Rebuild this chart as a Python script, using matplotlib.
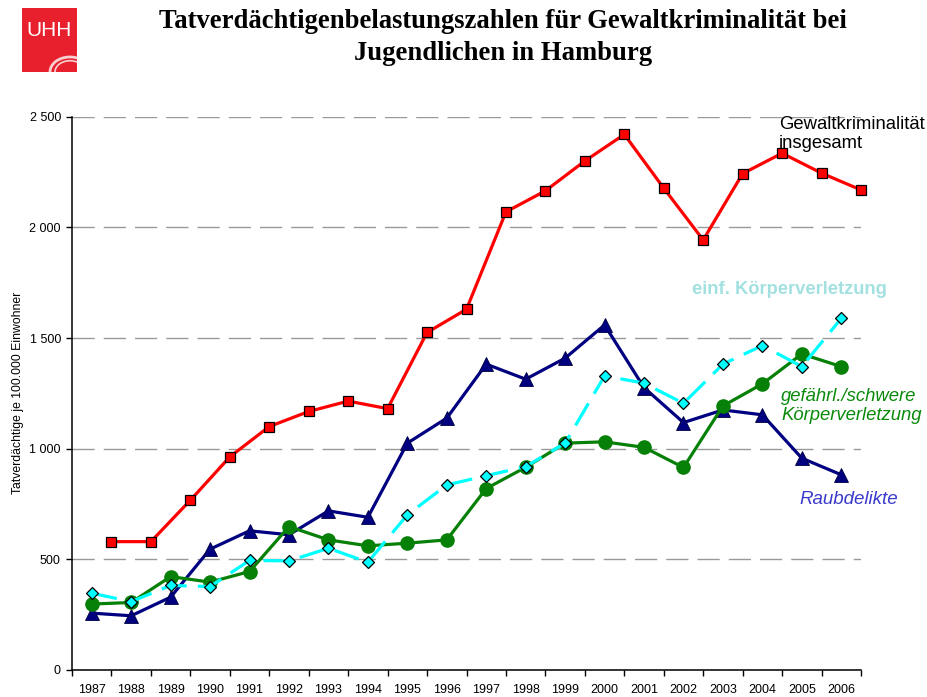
import matplotlib
matplotlib.use("Agg")
import matplotlib.pyplot as plt
from matplotlib.patches import Rectangle, Circle

plt.rcParams['font.family'] = ['Liberation Sans', 'DejaVu Sans']

years = ["1987", "1988", "1989", "1990", "1991", "1992", "1993", "1994", "1995", "1996",
         "1997", "1998", "1999", "2000", "2001", "2002", "2003", "2004", "2005", "2006"]
gewalt_gesamt = [580, 580, 767, 963, 1100, 1168, 1215, 1181, 1525, 1630,
                 2070, 2165, 2300, 2420, 2177, 1943, 2243, 2335, 2245, 2169]
raub = [257, 245, 329, 546, 629, 611, 719, 690, 1025, 1138,
        1382, 1314, 1409, 1559, 1276, 1118, 1175, 1153, 957, 882]
gefaehrl = [298, 305, 422, 397, 445, 648, 588, 561, 573, 588,
            820, 916, 1025, 1031, 1006, 915, 1193, 1293, 1428, 1371]
einf = [347, 309, 382, 377, 495, 493, 550, 487, 701, 836,
        878, 919, 1025, 1329, 1296, 1205, 1382, 1466, 1371, 1589]
yticks = [0, 500, 1000, 1500, 2000, 2500]
ytick_labels = ["0", "500", "1 000", "1 500", "2 000", "2 500"]

fig = plt.figure(figsize=(9.28, 6.97), dpi=100)
ax = fig.add_axes([72/928, 1-670/697, (861-72)/928, (670-116.7)/697])

n = len(years)
xc = list(range(n))
xr = [i + 0.5 for i in xc]

ax.plot(xr, gewalt_gesamt, color='#ff0000', lw=2.3, marker='s', markersize=7,
        markerfacecolor='#ff0000', markeredgecolor='black', markeredgewidth=0.9,
        clip_on=False, zorder=3)
ax.plot(xc, raub, color='#000080', lw=2.3, marker='^', markersize=10,
        markerfacecolor='#000080', markeredgecolor='#000040', markeredgewidth=0.6,
        clip_on=False, zorder=4)
ax.plot(xc, gefaehrl, color='#068006', lw=2.3, marker='o', markersize=9.5,
        markerfacecolor='#068006', markeredgecolor='#068006',
        clip_on=False, zorder=5)
ax.plot(xc, einf, color='#00ffff', lw=2.3, linestyle=(0, (8, 3.5)), marker='D', markersize=6,
        markerfacecolor='#00ffff', markeredgecolor='black', markeredgewidth=0.9,
        clip_on=False, zorder=6)

ax.set_xlim(-0.5, n - 0.5)
ax.set_ylim(0, 2500)
ax.set_yticks(yticks)
ax.set_yticklabels(ytick_labels, fontsize=9)
ax.yaxis.grid(True, color='#999999', lw=1.0, linestyle=(0, (16, 6.5)))
ax.set_axisbelow(True)

ax.set_xticks([i - 0.5 for i in range(n + 1)])
ax.set_xticklabels([])
ax.set_xticks(xc, minor=True)
ax.set_xticklabels(years, minor=True, fontsize=9)
ax.tick_params(axis='x', which='minor', length=0, pad=10)
ax.tick_params(axis='x', which='major', length=4, width=1, direction='out')
ax.tick_params(axis='y', length=4, width=1, direction='out', pad=4)

for s in ['top', 'right']:
    ax.spines[s].set_visible(False)
ax.spines['left'].set_linewidth(1.1)
ax.spines['bottom'].set_linewidth(1.1)

ax.set_ylabel("Tatverdächtige je 100.000 Einwohner", fontsize=8.8, labelpad=4)

# annotations
fig.text(779/928, 1-134/697, "Gewaltkriminalität\ninsgesamt", fontsize=13.3,
         color='black', va='center', ha='left', linespacing=1.2)
fig.text(692/928, 1-290/697, "einf. Körperverletzung", fontsize=13.2, fontweight='bold',
         color='#a3e0e0', va='center', ha='left')
fig.text(781/928, 1-406/697, "gefährl./schwere\nKörperverletzung", fontsize=13.3,
         style='italic', color='#0a8a0a', va='center', ha='left', linespacing=1.15)
fig.text(799/928, 1-500/697, "Raubdelikte", fontsize=13.5, style='italic',
         color='#3a3acc', va='center', ha='left')

# title
fig.text(503/928, 1-21/697,
         "Tatverdächtigenbelastungszahlen für Gewaltkriminalität bei",
         fontsize=19.2, fontweight='bold', family='Liberation Serif', ha='center', va='center')
fig.text(503/928, 1-53/697, "Jugendlichen in Hamburg",
         fontsize=19.2, fontweight='bold', family='Liberation Serif', ha='center', va='center')

# logo
lx0, ly0, lw_, lh_ = 22/928, 1-72/697, 55/928, 64/697
fig.patches.append(Rectangle((lx0, ly0), lw_, lh_, transform=fig.transFigure,
                             facecolor='#e8202e', edgecolor='none', zorder=1))
fig.text(lx0 + lw_/2, 1-31/697, "UHH", color='white', fontsize=15, ha='center',
         va='center', zorder=2)
clip = Rectangle((lx0, ly0), lw_, lh_, transform=fig.transFigure, facecolor='none',
                 edgecolor='none')
fig.patches.append(clip)
for r, w in [(20, 2.0), (15, 1.2)]:
    circ = Circle((70/928, 1-72/697), r/928, transform=fig.transFigure,
                  facecolor='none', edgecolor='#f8d0d0', lw=w, zorder=2)
    circ.set_clip_path(clip)
    fig.patches.append(circ)

fig.savefig("out.png", dpi=100)
